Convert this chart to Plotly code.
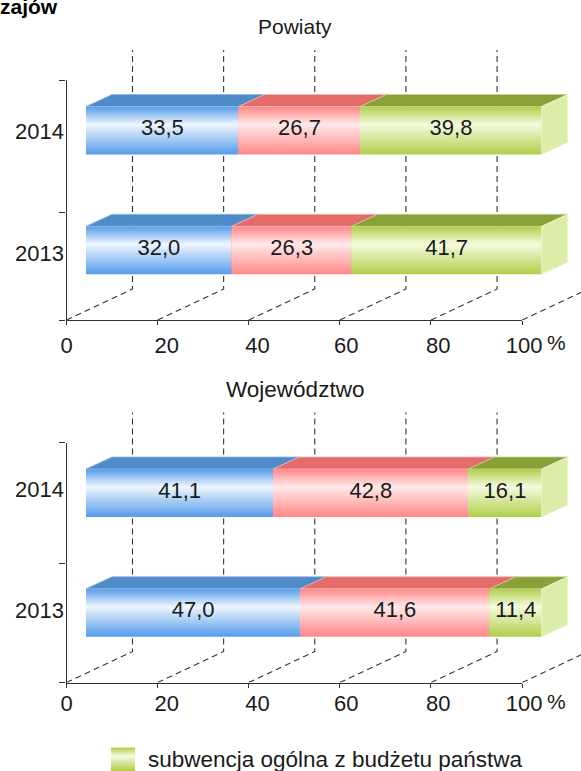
import plotly.graph_objects as go

# ---------- data ----------
YEARS = ["2014", "2013"]
POWIATY_BLUE = [33.5, 32.0]
POWIATY_RED = [26.7, 26.3]
POWIATY_GREEN = [39.8, 41.7]
WOJ_BLUE = [41.1, 47.0]
WOJ_RED = [42.8, 41.6]
WOJ_GREEN = [16.1, 11.4]
X_TICK_TEXT = ["0", "20", "40", "60", "80", "100"]
X_TICK_VALUES = [0, 20, 40, 60, 80, 100]
PANEL_TITLES = ["Powiaty", "Województwo"]
LEGEND_TEXT = "subwencja ogólna z budżetu państwa"
HEADING_FRAGMENT = "zajów"

# ---------- geometry / style (pixels) ----------
W, H = 581, 771
FONT = "Liberation Sans"
INK = "#1a1a1a"
AXIS = "#333333"
WALL_X0, WALL_X1 = 66.5, 522.0
FRONT_X0, FRONT_X1 = 86.0, 541.7
PX_PER_UNIT = (FRONT_X1 - FRONT_X0) / 100
BAR_H = 48
BAR_CENTERS = [189.5, 69.7]      # axis units above the baseline (1 unit = 1 px)
DEPTH_DX, DEPTH_DY = 26 / PX_PER_UNIT, 12
WALL_DX, WALL_DY = 66 / PX_PER_UNIT, 31
WALL_TOP = 270
X_LABEL_POS = [0, 22, 41.9, 61.4, 81.6, 100.4]
STEPS = 24
PEAK_SHIFT = 0.12 * BAR_H

COLORS = [
    dict(edge=(88, 158, 235), center=(236, 244, 253), top="#4f8bc9", topline="#8fb8e4"),
    dict(edge=(255, 136, 136), center=(255, 232, 232), top="#e36c6a", topline="#f2b3b1"),
    dict(edge=(178, 207, 76), center=(243, 250, 220), top="#8aa038", topline="#c6d48e"),
]
SIDE = "#dcedaa"
SIDE_LINE = "#eef6d2"

PANELS = [
    dict(base=320.0, top=80.0, mid=108, labels=[189, 67], text_dy=[1.5, 0.5], standoff=10, pct_dy=22.5,
         title_size=21, series=[POWIATY_BLUE, POWIATY_RED, POWIATY_GREEN], title_y=27, ids=["", "2", "3"]),
    dict(base=682.5, top=442.5, mid=119.5, labels=[193, 72], text_dy=[1, 1], standoff=5, pct_dy=18.5,
         title_size=22.5, series=[WOJ_BLUE, WOJ_RED, WOJ_GREEN], title_y=389, ids=["4", "5", "6"]),
]


def lerp(a, b, t):
    return "rgb(%d,%d,%d)" % tuple(round(a[i] + (b[i] - a[i]) * t) for i in range(3))


fig = go.Figure()
layout_axes = {}
shapes = []
annotations = []

for panel in PANELS:
    base = panel["base"]
    span = base - panel["top"]
    ydom = [1 - base / H, 1 - panel["top"] / H]
    ytall = [1 - base / H, 1 - (base - WALL_TOP - 4) / H]
    yr_tall = [0, WALL_TOP + 4]
    id_a, id_g, id_b = panel["ids"]
    xg, yg, xb, yb = "x" + id_g, "y" + id_g, "x" + id_b, "y" + id_b
    grid_x_max = (W - WALL_X0) / PX_PER_UNIT
    bar_x_max = (W - FRONT_X0) / PX_PER_UNIT

    # visible axes: lines, tick marks, year labels
    layout_axes["xaxis" + id_a] = dict(
        domain=[WALL_X0 / W, WALL_X1 / W], range=[0, 100], anchor="y" + id_a, showgrid=False, zeroline=False,
        showline=True, linecolor=AXIS, linewidth=1.2, ticks="outside", ticklen=4, tickcolor=AXIS, tickwidth=1,
        tickmode="array", tickvals=X_TICK_VALUES, showticklabels=False,
    )
    layout_axes["yaxis" + id_a] = dict(
        domain=ydom, range=[0, span], anchor="x" + id_a, showgrid=False, zeroline=False,
        showline=True, linecolor=AXIS, linewidth=1.2, ticks="", tickmode="array",
        tickvals=panel["labels"], ticktext=YEARS, ticklabelstandoff=-3,
        tickfont=dict(family=FONT, size=22, color=INK),
        minor=dict(tickmode="array", tickvals=[0, panel["mid"], span], ticks="outside", ticklen=6,
                   tickcolor=AXIS, tickwidth=1, showgrid=False),
    )
    # this invisible trace makes Plotly draw the axes of the first subplot
    fig.add_trace(go.Scatter(x=[0], y=[0], xaxis="x" + id_a, yaxis="y" + id_a, mode="lines",
                             hoverinfo="skip", showlegend=False))
    # wall plane: value labels and the dashed grid (runs past the 100 mark)
    layout_axes["xaxis" + id_g] = dict(
        domain=[WALL_X0 / W, 1], range=[0, grid_x_max], anchor="y" + id_g, showgrid=False, zeroline=False,
        showline=False, ticks="", tickmode="array", tickvals=X_LABEL_POS, ticktext=X_TICK_TEXT,
        ticklabelstandoff=panel["standoff"], tickfont=dict(family=FONT, size=22, color=INK),
    )
    layout_axes["yaxis" + id_g] = dict(domain=ytall, range=yr_tall, anchor="x" + id_g, visible=False)
    # front plane: the bars
    layout_axes["xaxis" + id_b] = dict(domain=[FRONT_X0 / W, 1], range=[0, bar_x_max], anchor="y" + id_b, visible=False)
    layout_axes["yaxis" + id_b] = dict(domain=ytall, range=yr_tall, anchor="x" + id_b, visible=False)

    # dashed wall grid: diagonal along the floor, then up the back wall
    gx, gy = [], []
    for v in X_TICK_VALUES:
        gx += [v, v + WALL_DX, v + WALL_DX, None]
        gy += [0, WALL_DY, WALL_TOP, None]
    fig.add_trace(go.Scatter(x=gx, y=gy, xaxis=xg, yaxis=yg, mode="lines",
                             line=dict(color=AXIS, width=1.1, dash="6px,4px"),
                             hoverinfo="skip", showlegend=False))

    # stacked segments
    starts = [0.0, 0.0]
    for series, col in zip(panel["series"], COLORS):
        bx, by, bw, bc, bb = [], [], [], [], []
        for c, val in enumerate(series):
            for k in range(STEPS):
                t = k / (STEPS - 1)
                bx.append(val)
                bb.append(starts[c])
                by.append(BAR_CENTERS[c] + PEAK_SHIFT * t)
                bw.append(BAR_H * (1 - k / STEPS))
                bc.append(lerp(col["edge"], col["center"], t))
        fig.add_trace(go.Bar(x=bx, y=by, base=bb, width=bw, orientation="h", xaxis=xb, yaxis=yb,
                             marker=dict(color=bc, line=dict(width=0)),
                             hoverinfo="skip", showlegend=False))
        px, py = [], []
        for c, val in enumerate(series):
            yt = BAR_CENTERS[c] + BAR_H / 2
            x0, x1 = starts[c], starts[c] + val
            px += [x0, x0 + DEPTH_DX, x1 + DEPTH_DX, x1, x0, None]
            py += [yt, yt + DEPTH_DY, yt + DEPTH_DY, yt, yt, None]
        fig.add_trace(go.Scatter(x=px, y=py, xaxis=xb, yaxis=yb, mode="lines", fill="toself",
                                 fillcolor=col["top"], line=dict(color=col["topline"], width=0.8),
                                 hoverinfo="skip", showlegend=False))
        tx = [starts[c] + series[c] / 2 for c in range(2)]
        ty = [BAR_CENTERS[c] + panel["text_dy"][c] for c in range(2)]
        labels = [f"{v:.1f}".replace(".", ",") for v in series]
        fig.add_trace(go.Scatter(x=tx, y=ty, xaxis=xb, yaxis=yb, mode="text", text=labels,
                                 textposition="middle center",
                                 textfont=dict(family=FONT, size=22, color=INK),
                                 hoverinfo="skip", showlegend=False))
        starts = [starts[c] + series[c] for c in range(2)]

    # right-hand end faces
    sx, sy = [], []
    for c in range(2):
        yt, yb_ = BAR_CENTERS[c] + BAR_H / 2, BAR_CENTERS[c] - BAR_H / 2
        sx += [100, 100 + DEPTH_DX, 100 + DEPTH_DX, 100, 100, None]
        sy += [yt, yt + DEPTH_DY, yb_ + DEPTH_DY, yb_, yt, None]
    fig.add_trace(go.Scatter(x=sx, y=sy, xaxis=xb, yaxis=yb, mode="lines", fill="toself",
                             fillcolor=SIDE, line=dict(color=SIDE_LINE, width=0.8),
                             hoverinfo="skip", showlegend=False))

    annotations.append(dict(text="%", xref="paper", yref="paper", x=544.5 / W, y=1 - (base + panel["pct_dy"]) / H,
                            xanchor="left", yanchor="middle", showarrow=False,
                            font=dict(family=FONT, size=21, color=INK)))

for title, panel in zip(PANEL_TITLES, PANELS):
    annotations.append(dict(text=title, xref="paper", yref="paper", x=295 / W, y=1 - panel["title_y"] / H,
                            xanchor="center", yanchor="middle", showarrow=False,
                            font=dict(family=FONT, size=panel["title_size"], color=INK)))

# cropped heading fragment at the top-left corner
annotations.append(dict(text="<b>" + HEADING_FRAGMENT + "</b>", xref="paper", yref="paper",
                        x=-2.5 / W, y=1 - 6.5 / H, xanchor="left", yanchor="middle", showarrow=False,
                        font=dict(family=FONT, size=21, color="#000000")))
annotations.append(dict(text=LEGEND_TEXT, xref="paper", yref="paper", x=145.5 / W, y=1 - 759 / H,
                        xanchor="left", yanchor="middle", showarrow=False,
                        font=dict(family=FONT, size=22.5, color=INK)))

# legend swatch with the same green gradient
SW_X0, SW_X1, SW_Y0, SW_Y1 = 111, 135, 747.5, 771
swatch_h = SW_Y1 - SW_Y0
green = COLORS[2]
for k in range(12):
    t = k / 11
    inset = swatch_h / 2 * k / 12
    shift = 0.12 * swatch_h * t
    shapes.append(dict(type="rect", xref="paper", yref="paper", x0=SW_X0 / W, x1=SW_X1 / W,
                       y0=1 - (SW_Y0 + inset - shift) / H, y1=1 - (SW_Y1 - inset - shift) / H,
                       fillcolor=lerp(green["edge"], green["center"], t), line=dict(width=0), layer="above"))

fig.update_layout(
    width=W, height=H, margin=dict(l=0, r=0, t=0, b=0, autoexpand=False), autosize=False,
    paper_bgcolor="white", plot_bgcolor="rgba(0,0,0,0)", barmode="overlay", showlegend=False,
    shapes=shapes, annotations=annotations, **layout_axes,
)
fig.write_html("out.html", config=dict(displayModeBar=False),
               post_script="document.body.style.margin='0';document.body.style.overflow='hidden';")
